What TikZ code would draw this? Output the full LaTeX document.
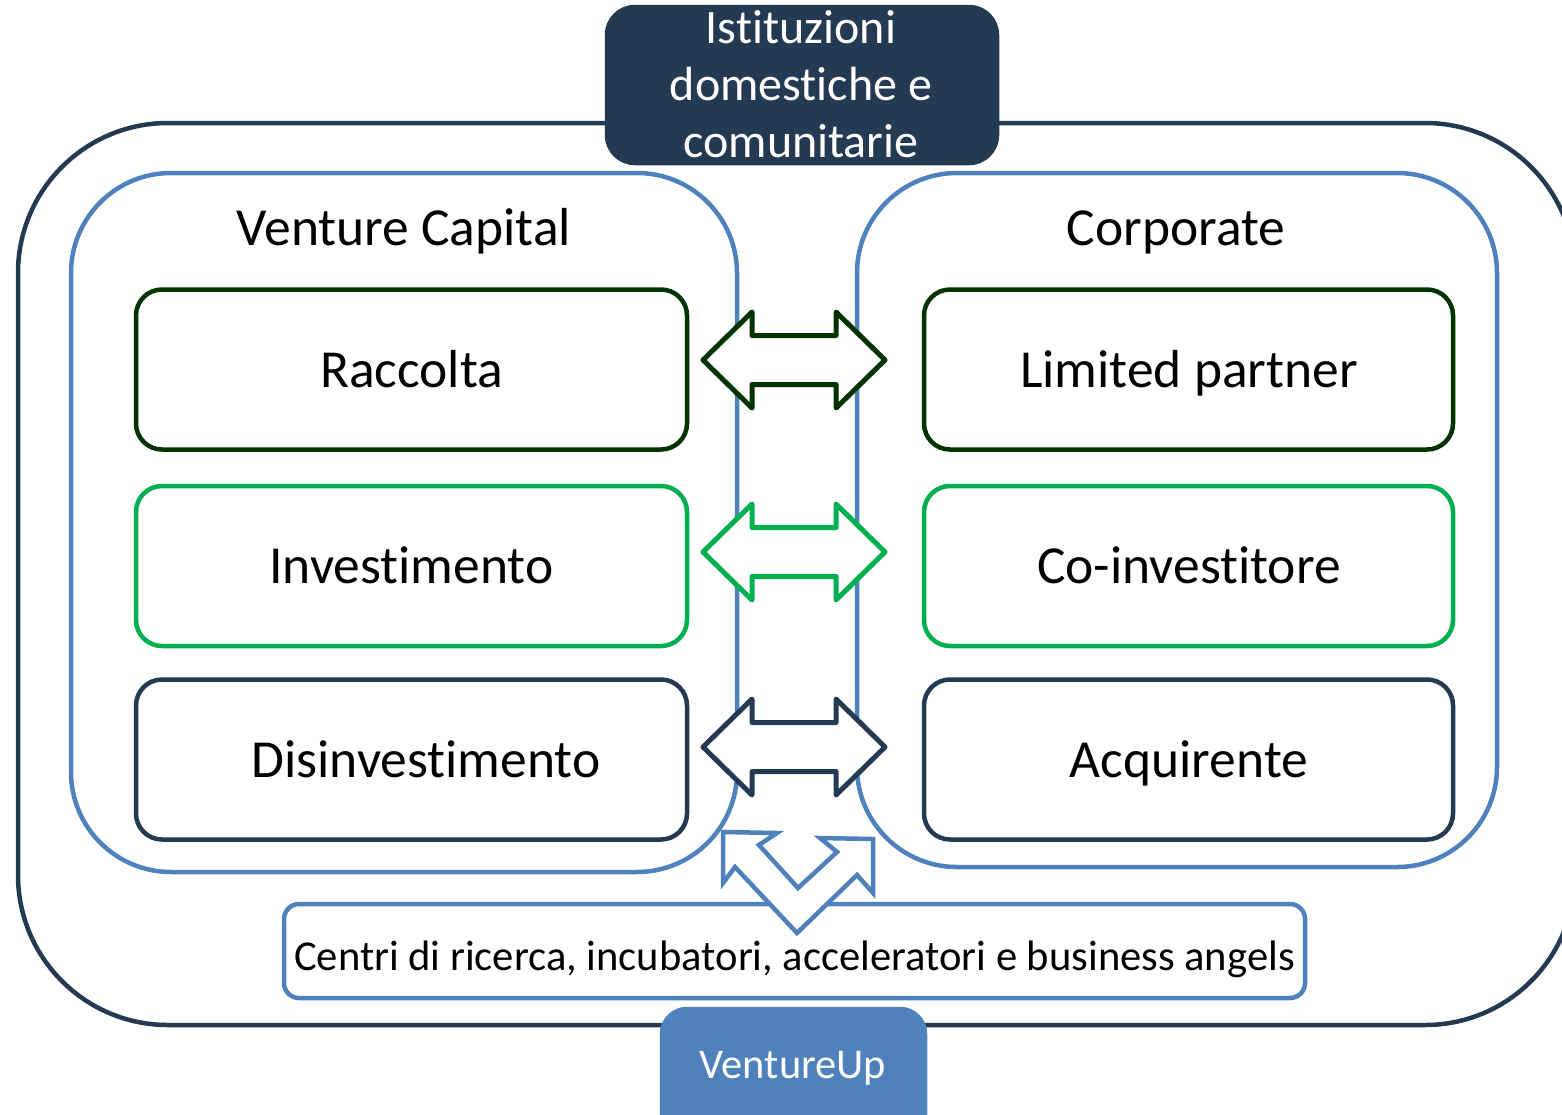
\documentclass[tikz,border=0pt]{standalone}
\usepackage{fontspec}
\setmainfont{Carlito}[Ligatures={NoCommon,NoContextual}]
\definecolor{navy}{HTML}{243A52}
\definecolor{vublue}{HTML}{4F81BD}
\definecolor{dkgreen}{HTML}{003300}
\definecolor{brgreen}{HTML}{00B050}
\newcommand\DArrowShape[3]{%
  \draw[#3, line width=5pt, fill=white, line join=round]
    (#1-91,#2) -- (#1-42,#2-48) -- (#1-42,#2-24.5) -- (#1+42,#2-24.5)
    -- (#1+42,#2-48) -- (#1+91,#2) -- (#1+42,#2+48) -- (#1+42,#2+24.5)
    -- (#1-42,#2+24.5) -- (#1-42,#2+48) -- cycle;}
\begin{document}
\begin{tikzpicture}[x=1pt,y=-1pt,
  frame/.style={draw, rectangle, inner sep=0pt, outer sep=0pt, line width=4.5pt},
  innerbox/.style={frame, minimum height=160pt, rounded corners=26pt},
  biglabel/.style={anchor=base, inner sep=0pt, font=\fontsize{53.5}{64}\selectfont}]
\useasboundingbox (0,0) rectangle (1562,1114);
\clip (0,0) rectangle (1562,1114);

% outer frame
\node[frame, navy, minimum width=1557pt, minimum height=902pt, rounded corners=150pt] (outer) at (796.5,574) {};

% blue groups
\node[frame, vublue, minimum width=666pt, minimum height=699pt, rounded corners=100pt] (vc) at (404,522.5) {};
\node[frame, vublue, minimum width=640pt, minimum height=694pt, rounded corners=100pt] (corp) at (1177,520) {};
\node[biglabel] (vclab) at (404,245) {Venture Capital};
\node[biglabel] (corplab) at (1176,245) {Corporate};

% left inner boxes
\node[innerbox, dkgreen, minimum width=551pt] (rac) at (411.5,369.5) {};
\node[innerbox, brgreen, minimum width=551pt] (inv) at (411.5,566) {};
\node[innerbox, navy, minimum width=551pt] (dis) at (411.5,759.5) {};
\node[biglabel] (raclab) at (411.5,387) {Raccolta};
\node[biglabel] (invlab) at (411.5,583) {Investimento};
\node[biglabel] (dislab) at (426,777) {Disinvestimento};

% right inner boxes
\node[innerbox, dkgreen, minimum width=529pt] (lp) at (1188.5,369.5) {};
\node[innerbox, brgreen, minimum width=529pt] (coi) at (1188.5,566) {};
\node[innerbox, navy, minimum width=529pt] (acq) at (1188.5,759.5) {};
\node[biglabel] (lplab) at (1189,387) {Limited partner};
\node[biglabel] (coilab) at (1189,583) {Co-investitore};
\node[biglabel] (acqlab) at (1189,777) {Acquirente};

% double arrows
\DArrowShape{794}{360}{dkgreen}
\DArrowShape{794}{552}{brgreen}
\DArrowShape{794}{747}{navy}

% research centres box
\node[frame, vublue, fill=white, minimum width=1021pt, minimum height=94pt, rounded corners=15pt] (cen) at (794.5,951) {};
\node[anchor=base, inner sep=0pt, font=\fontsize{42.6}{50}\selectfont] (cenlab) at (794.5,970) {Centri di ricerca, incubatori, acceleratori e business angels};

% V shaped arrow
\draw[vublue, line width=4.5pt, fill=white, line join=miter]
  (723,832) -- (777,833) -- (759,845) -- (798,888) -- (837,852) -- (820,838)
  -- (873,839) -- (873,893) -- (857,875) -- (797,933) -- (735,867) -- (723,883) -- cycle;

% top institution box
\node[frame, draw=navy, fill=navy, minimum width=390pt, minimum height=156pt, rounded corners=28pt] (inst) at (802,85) {};
\node[anchor=base, inner sep=0pt, text=white, font=\fontsize{48}{57}\selectfont] (instA) at (801,43) {Istituzioni};
\node[anchor=base, inner sep=0pt, text=white, font=\fontsize{48}{57}\selectfont] (instB) at (801,100) {domestiche e};
\node[anchor=base, inner sep=0pt, text=white, font=\fontsize{48}{57}\selectfont] (instC) at (801,157) {comunitarie};

% VentureUp box
\node[frame, draw=vublue, fill=vublue, minimum width=263pt, minimum height=131pt, rounded corners=25pt] (vu) at (793.5,1074.5) {};
\node[anchor=base, inner sep=0pt, text=white, font=\fontsize{42.4}{50}\selectfont] (vulab) at (793,1078) {VentureUp};
\end{tikzpicture}
\end{document}
